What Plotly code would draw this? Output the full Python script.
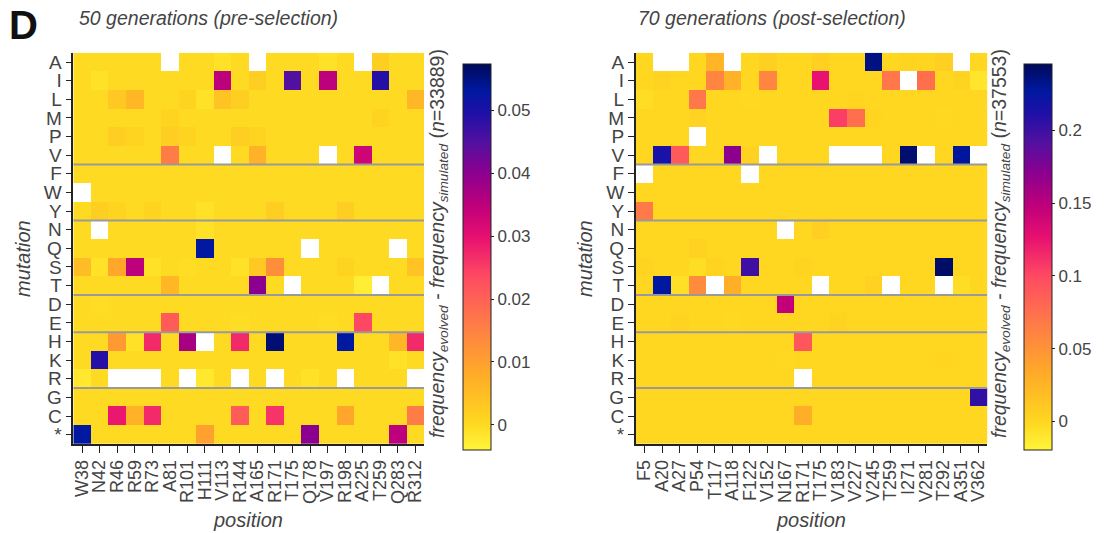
import plotly.graph_objects as go

mutations = ["A", "I", "L", "M", "P", "V", "F", "W", "Y", "N", "Q", "S", "T", "D", "E", "H", "K", "R", "G", "C", "*"]

pos_pre = ["W38", "N42", "R46", "R59", "R73", "A81", "R101", "H111", "V113", "R144",
           "A165", "R171", "T175", "Q178", "V197", "R198", "A225", "T259", "Q283", "R312"]
pos_post = ["F5", "A20", "A27", "P54", "T117", "A118", "F122", "V152", "N167", "R171",
            "T175", "V183", "V227", "V245", "T259", "I271", "V281", "T292", "A351", "V362"]

N = None
# 50 generations (pre-selection); None = wild-type residue (blank)
vals_pre = [
    [0, 0, 0, 0, 0, N, 0, 0, -0.001, 0, N, 0, 0, 0, -0.001, 0, N, 0.002, 0, 0],  # A
    [0, -0.001, 0, 0, 0, 0, 0, 0, 0.035, 0, 0.002, 0, 0.045, 0, 0.035, 0, 0, 0.049, 0, 0],  # I
    [0, 0, 0.003, 0.006, 0, 0, 0.001, -0.001, 0.004, 0.002, 0, 0, 0, 0, 0, 0, 0, 0, 0, 0.006],  # L
    [0, 0, 0, 0, 0, 0.001, 0, 0, 0, 0, 0, 0, 0, 0, 0, 0, 0, 0.001, 0, 0],  # M
    [0, 0, 0.002, 0.001, 0, 0.002, 0.001, 0, 0, 0.002, 0.001, 0, 0, 0, 0, 0, 0, 0, 0, 0],  # P
    [0, 0, 0, 0, 0, 0.016, 0, 0, N, 0, 0.007, 0, 0, 0, N, 0, 0.033, 0, 0, 0],  # V
    [0, 0, 0, 0, 0, 0, 0, 0, 0, 0, 0, 0, 0, 0, 0, 0, 0, 0, 0, 0],  # F
    [N, 0, 0, 0, 0, 0, 0, 0, 0, 0, 0, 0, 0, 0, 0, 0, 0, 0, 0, 0],  # W
    [0, 0.002, 0.001, 0, 0.001, 0, 0, -0.001, 0, 0, 0, 0.002, 0, 0, 0, 0.002, 0, 0, 0, 0],  # Y
    [0, N, 0, 0, 0, 0, 0, -0.001, 0, 0, 0, 0, 0, 0, 0, 0, 0, 0, 0, 0],  # N
    [0, 0, 0, 0, 0, 0, 0, 0.053, 0, 0, 0, 0, 0, N, 0, 0, 0, 0, N, 0],  # Q
    [0.005, -0.001, 0.009, 0.035, -0.001, 0, -0.0005, 0, 0, -0.001, 0.003, 0.013, 0, 0, 0, 0.001, 0, 0, 0, 0.004],  # S
    [0, 0, 0, 0, 0, 0.006, 0, 0, 0, 0, 0.040, 0, N, 0, 0, 0, -0.003, N, 0, 0],  # T
    [0, -0.0005, 0, 0, 0, 0, 0, 0, 0, 0, 0, 0, 0, 0, 0, 0, 0, 0, 0, 0],  # D
    [0, 0, 0, 0, 0, 0.021, 0, 0, 0, -0.0005, 0, 0, 0, 0, -0.0005, 0, 0.024, 0, 0, 0],  # E
    [0, 0, 0.011, -0.001, 0.027, 0, 0.037, N, 0, 0.027, 0, 0.056, 0, 0, 0, 0.053, 0, 0, 0.006, 0.027],  # H
    [0, 0.049, 0, 0, 0, 0, 0, 0, 0, 0, 0, 0, 0, 0, 0, 0, 0, 0, -0.001, 0],  # K
    [-0.002, 0, N, N, N, 0, N, -0.002, 0, N, 0, N, 0, -0.001, 0, N, 0, 0, 0, N],  # R
    [0, 0, 0, 0, 0, 0, 0, 0, 0, 0, 0, 0, 0, 0, 0, 0, 0, 0, 0, 0],  # G
    [0, 0, 0.029, 0.007, 0.027, 0, 0, 0, 0, 0.021, 0, 0.026, 0, 0, 0, 0.009, 0, 0, 0, 0.016],  # C
    [0.053, 0, 0, 0, 0, 0, 0, 0.010, 0, 0, 0, 0, 0, 0.040, 0, 0, 0, 0, 0.035, 0],  # *
]

# 70 generations (post-selection)
vals_post = [
    [0, N, N, 0, 0.025, N, 0, 0.005, 0, 0, 0.006, 0, 0, 0.235, 0, 0.002, 0.001, 0.005, N, 0],  # A
    [0, 0.003, 0, 0, 0.06, 0.028, 0, 0.06, 0, 0, 0.126, 0, 0, 0, 0.07, N, 0.075, 0, 0.002, -0.01],  # I
    [-0.004, 0, 0, 0.07, 0, 0, -0.002, 0, 0, 0, 0, 0, 0.001, 0, 0, 0, 0, 0, 0, 0],  # L
    [0, 0, 0, 0.003, 0, 0, 0, 0, 0, 0, 0, 0.105, 0.075, 0.001, 0, 0, 0, -0.002, 0, 0],  # M
    [0, 0, 0, N, 0, 0, 0, 0, 0, 0, 0, 0, 0, 0, 0, 0, 0, 0, 0, 0],  # P
    [0, 0.215, 0.09, 0, 0, 0.17, 0.004, N, 0, 0, 0, N, N, N, 0, 0.24, N, 0, 0.228, N],  # V
    [N, 0, 0, 0, 0, 0, N, 0, 0, 0, 0, 0, 0, 0, 0, 0, 0, 0, 0, 0],  # F
    [0, 0, 0, 0, 0, 0, 0, 0, 0, 0, 0, 0, 0, 0, 0, 0, 0, 0, 0, 0],  # W
    [0.068, 0, 0, 0, 0, 0, 0, 0, 0, 0, 0, 0, 0, 0, 0, 0, 0, 0, 0, 0],  # Y
    [0, 0, 0, 0, 0, 0, 0, 0, N, 0, 0.005, 0, 0, 0, 0, 0, 0, 0, 0, 0],  # N
    [0, 0, 0, 0.004, 0, 0, 0, 0, 0, 0, 0, 0, 0, 0, 0, 0, 0, 0, 0, 0],  # Q
    [0.002, 0, 0, -0.004, 0.002, 0, 0.2, 0, 0, 0.002, 0, 0, 0, 0, 0, 0, 0, 0.242, 0, 0],  # S
    [0, 0.227, -0.006, 0.055, N, 0.03, 0, 0, 0, 0, N, 0, 0, 0.004, N, 0, 0, N, -0.004, 0],  # T
    [0, 0, 0, 0, 0, 0, 0, 0, 0.147, 0, 0, 0, 0, 0, 0, 0, 0, 0, 0, 0],  # D
    [0, 0, 0.002, 0, 0, -0.002, 0, 0, 0, 0, 0, 0.002, 0, 0, 0, 0, 0, 0, 0, 0],  # E
    [0, 0, 0, 0, 0, 0, 0, 0, 0, 0.092, 0, 0, 0, 0, 0, 0, 0, 0, 0, 0],  # H
    [0, 0, 0, 0, 0, 0, 0, 0, -0.002, 0, 0, 0, 0, 0, 0, 0, 0, 0.001, 0, 0],  # K
    [0, 0, 0, 0, 0, 0, 0, 0, 0, N, 0, 0, 0, 0, 0, 0, 0, 0, 0, 0],  # R
    [0, 0, 0, 0, 0, 0, 0, 0, 0, 0, 0, 0, 0, 0, 0, 0, 0, 0, 0, 0.205],  # G
    [0, 0, 0, 0, 0, 0, 0, 0, 0, 0.03, 0, 0, 0, 0, 0, 0, 0, 0, 0, 0],  # C
    [0, 0, 0, 0, 0, 0, 0, 0, 0, 0, 0, 0, 0, 0, 0, 0, 0, 0, 0, 0],  # *
]

ticks_pre = [0, 0.01, 0.02, 0.03, 0.04, 0.05]
ticks_post = [0, 0.05, 0.1, 0.15, 0.2]
group_breaks = [5.5, 8.5, 12.5, 14.5, 17.5]

cscale = [
    [0.0, "#fff53a"], [0.07, "#ffd820"], [0.2, "#ffaa28"], [0.33, "#ff7a48"],
    [0.45, "#ff4a62"], [0.55, "#e81070"], [0.63, "#c0007a"], [0.72, "#8a0090"],
    [0.8, "#5010a0"], [0.87, "#2010a8"], [0.93, "#0018a0"], [1.0, "#000a5a"],
]

W, H = 1105, 533
FONT = "Liberation Sans, Arial, sans-serif"
GRAY = "#444444"

def px(x):
    return x / W

def py(y):
    return 1 - y / H

fig = go.Figure()

rows = list(range(len(mutations)))

def add_panel(vals, positions, ticks, zmin, zmax, xa, ya, cb_x):
    fig.add_trace(go.Heatmap(
        z=vals, x=list(range(len(positions))), y=rows,
        colorscale=cscale, zmin=zmin, zmax=zmax,
        xaxis=xa, yaxis=ya, hoverongaps=False,
        colorbar=dict(
            x=cb_x, xanchor="left", y=py(257), yanchor="middle",
            len=386 / H, lenmode="fraction", thickness=28, thicknessmode="pixels",
            outlinewidth=1, outlinecolor="#222222", xpad=0, ypad=0,
            tickvals=ticks, ticktext=[("%g" % t) for t in ticks],
            ticks="outside", ticklen=3, tickcolor="#222222",
            tickfont=dict(family=FONT, size=17, color=GRAY),
        ),
    ))

add_panel(vals_pre, pos_pre, ticks_pre, -0.004, 0.0574, "x", "y", px(463))
add_panel(vals_post, pos_post, ticks_post, -0.0196, 0.2455, "x2", "y2", px(1024))

def xaxis_cfg(domain, labels, anchor):
    return dict(
        domain=domain, range=[-0.5, len(labels) - 0.5], tickmode="array", anchor=anchor,
        tickvals=list(range(len(labels))), ticktext=labels, tickangle=-90,
        ticks="outside", ticklen=7, tickcolor="#222222", tickwidth=1,
        showline=True, linecolor="#222222", linewidth=1.5, showgrid=False, zeroline=False,
        tickfont=dict(family=FONT, size=18, color=GRAY), automargin=False,
        fixedrange=True,
    )

def yaxis_cfg(domain, anchor):
    return dict(
        domain=domain, range=[len(mutations) - 0.5, -0.5], tickmode="array",
        tickvals=rows, ticktext=mutations, anchor=anchor,
        ticks="outside", ticklen=6, tickcolor="#222222", tickwidth=1,
        showline=True, linecolor="#222222", linewidth=1.5, showgrid=False, zeroline=False,
        tickfont=dict(family=FONT, size=19, color=GRAY), automargin=False,
        fixedrange=True,
    )

ydom = [py(444), py(52.7)]
fig.update_layout(
    width=W, height=H,
    margin=dict(l=0, r=0, t=0, b=0),
    paper_bgcolor="white", plot_bgcolor="white",
    xaxis=xaxis_cfg([px(73.3), px(424)], pos_pre, "y"),
    yaxis=yaxis_cfg(ydom, "x"),
    xaxis2=xaxis_cfg([px(635.7), px(987.3)], pos_post, "y2"),
    yaxis2=yaxis_cfg(ydom, "x2"),
    showlegend=False,
)

for xr, yr, n in [("x", "y", len(pos_pre)), ("x2", "y2", len(pos_post))]:
    for b in group_breaks:
        fig.add_shape(type="line", xref=xr, yref=yr, x0=-0.5, x1=n - 0.5, y0=b, y1=b,
                      line=dict(color="#9a9a9a", width=2))

def note(text, x, y, size, xanchor="center", angle=0, color=GRAY):
    return dict(text=text, x=px(x), y=py(y), xref="paper", yref="paper",
                xanchor=xanchor, yanchor="middle", showarrow=False, textangle=angle,
                font=dict(family=FONT, size=size, color=color))

ann = [
    note("<b>D</b>", 7, 25, 40, xanchor="left", color="#111111"),
    note("<i>50 generations (pre-selection)</i>", 77, 18, 19.5, xanchor="left"),
    note("<i>70 generations (post-selection)</i>", 636, 18, 19.5, xanchor="left"),
    note("<i>mutation</i>", 23, 259, 20, angle=-90),
    note("<i>mutation</i>", 585, 259, 20, angle=-90),
    note("<i>position</i>", 248, 520, 20),
    note("<i>position</i>", 811, 520, 20),
]
cbt = "<i>frequency<sub>evolved</sub> - frequency<sub>simulated</sub></i> (<i>n</i>=%s)"
ann.append(note(cbt % "33889", 438, 244, 19.5, angle=-90))
ann.append(note(cbt % "37553", 1000, 244, 19.5, angle=-90))
fig.update_layout(annotations=ann)

fig.write_html("out.html")
